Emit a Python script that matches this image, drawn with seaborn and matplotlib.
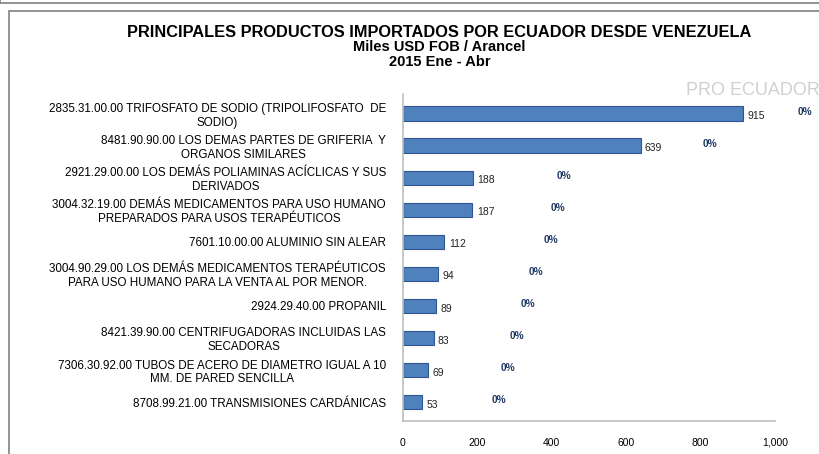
import pandas as pd
import seaborn as sns
import matplotlib.pyplot as plt
from matplotlib.patches import Rectangle

# Data
productos = [
    '2835.31.00.00 TRIFOSFATO DE SODIO (TRIPOLIFOSFATO  DE\nSODIO)',
    '8481.90.90.00 LOS DEMAS PARTES DE GRIFERIA  Y\nORGANOS SIMILARES',
    '2921.29.00.00 LOS DEMÁS POLIAMINAS ACÍCLICAS Y SUS\nDERIVADOS',
    '3004.32.19.00 DEMÁS MEDICAMENTOS PARA USO HUMANO\nPREPARADOS PARA USOS TERAPÉUTICOS',
    '7601.10.00.00 ALUMINIO SIN ALEAR',
    '3004.90.29.00 LOS DEMÁS MEDICAMENTOS TERAPÉUTICOS\nPARA USO HUMANO PARA LA VENTA AL POR MENOR.',
    '2924.29.40.00 PROPANIL',
    '8421.39.90.00 CENTRIFUGADORAS INCLUIDAS LAS\nSECADORAS',
    '7306.30.92.00 TUBOS DE ACERO DE DIAMETRO IGUAL A 10\nMM. DE PARED SENCILLA',
    '8708.99.21.00 TRANSMISIONES CARDÁNICAS',
]
valores = [915, 639, 188, 187, 112, 94, 89, 83, 69, 53]
participacion = ['0%'] * 10
xticks = [0, 200, 400, 600, 800, 1000]
xticklabels = ['0', '200', '400', '600', '800', '1,000']

df = pd.DataFrame({'producto': productos, 'valor': valores})

plt.rcParams['font.family'] = ['Liberation Sans', 'DejaVu Sans']

fig = plt.figure(figsize=(8.2, 4.54), dpi=100)
ax = fig.add_axes([0.491, 0.072, 0.454, 0.72])

sns.barplot(data=df, x='valor', y='producto', orient='h', ax=ax,
            color='#4F81BD', edgecolor='#2F5597', linewidth=0.8, width=0.45,
            saturation=1)

# value labels
for i, v in enumerate(valores):
    ax.text(v + 12, i + 0.08, str(v), va='center', ha='left', fontsize=7.5, color='#222222')

# share labels (placed like the original Excel labels)
pct_x = [1060, 805, 415, 398, 378, 338, 318, 288, 262, 238]
for i, (px, p) in enumerate(zip(pct_x, participacion)):
    ax.text(px, i - 0.05, p, va='center', ha='left', fontsize=7.3, color='#1F3864',
            fontweight='bold', clip_on=False)

ax.set_xlim(0, 1000)
ax.set_ylim(9.6, -0.6)
ax.set_xticks(xticks)
ax.set_xticklabels(xticklabels, fontsize=7.5)
ax.tick_params(axis='y', labelsize=8.4, length=0, pad=12)
ax.tick_params(axis='x', length=0, pad=12)
for lab in ax.get_yticklabels():
    lab.set_multialignment('center')
    lab.set_linespacing(1.15)
ax.set_xlabel('')
ax.set_ylabel('')
for s in ['top', 'right']:
    ax.spines[s].set_visible(False)
ax.spines['left'].set_color('#BFBFBF')
ax.spines['bottom'].set_color('#BFBFBF')
ax.spines['left'].set_linewidth(1.2)
ax.spines['bottom'].set_linewidth(1.2)

# titles
fig.text(0.536, 0.929, 'PRINCIPALES PRODUCTOS IMPORTADOS POR ECUADOR DESDE VENEZUELA',
         ha='center', va='center', fontsize=11.8, fontweight='bold')
fig.text(0.536, 0.896, 'Miles USD FOB / Arancel', ha='center', va='center',
         fontsize=10.5, fontweight='bold')
fig.text(0.536, 0.863, '2015 Ene - Abr', ha='center', va='center',
         fontsize=10.5, fontweight='bold')

# watermark
fig.text(1.0, 0.80, 'PRO ECUADOR', ha='right', va='center', fontsize=13,
         color='#D0D0D0')

# document frame
fig.patches.append(Rectangle((0.011, -0.01), 1.2, 0.985, transform=fig.transFigure,
                             fill=False, edgecolor='#808080', linewidth=1.2))
fig.patches.append(Rectangle((0.0, 0.993), 1.2, 0.2, transform=fig.transFigure,
                             fill=False, edgecolor='#808080', linewidth=1.2))

fig.savefig('out.png', dpi=100)
